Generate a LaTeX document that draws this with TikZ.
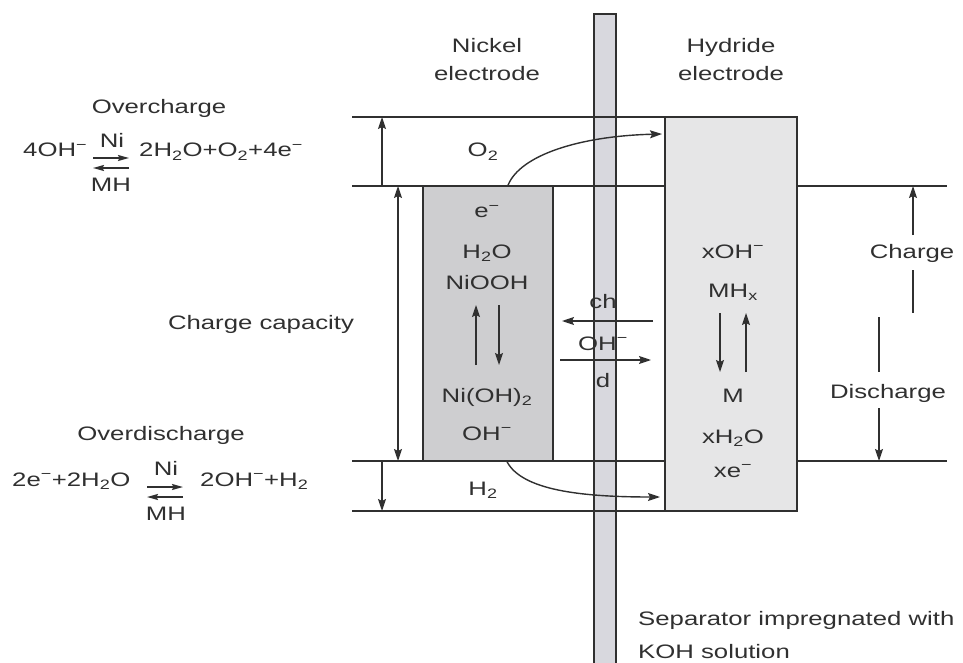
\documentclass[tikz,border=0pt]{standalone}
\usepackage{fontspec}
\setmainfont[FakeStretch=1.32]{Liberation Sans}
\usepackage{tikz}
\usetikzlibrary{arrows.meta}
\definecolor{ink}{RGB}{48,48,48}
\definecolor{nifill}{RGB}{206,206,208}
\definecolor{hyfill}{RGB}{230,230,231}
\definecolor{sepfill}{RGB}{216,216,222}
\newcommand{\mns}{\textsuperscript{−}}
\newcommand{\dn}[1]{\textsubscript{#1}}

\begin{document}
\begin{tikzpicture}[x=1pt,y=-1pt,
  lbl/.style={font=\fontsize{19.5}{26}\selectfont,text=ink,inner sep=0pt,anchor=base},
  lblw/.style={lbl,anchor=base west},
  ln/.style={draw=ink,line width=1.4pt},
  arr/.style={ln,-{Stealth[length=12pt,width=8pt,inset=2pt]}},
  sarr/.style={ln,line width=1.6pt,-{Stealth[length=11pt,width=6pt,inset=1.5pt]}},
  dbl/.style={ln,{Stealth[length=12pt,width=8pt,inset=2pt]}-{Stealth[length=12pt,width=8pt,inset=2pt]}}]
\useasboundingbox (0,0) rectangle (963,663);

\node (sep) [draw=ink,fill=sepfill,line width=1.2pt,minimum width=22pt,minimum height=656pt,inner sep=0pt] at (605,342) {};

\coordinate (l1a) at (352,117);
\coordinate (l2a) at (352,186);
\coordinate (l2b) at (947,186);
\coordinate (l3a) at (352,461);
\coordinate (l3b) at (947,461);
\coordinate (l4a) at (352,511);
\coordinate (l4b) at (665,511);
\coordinate (l1b) at (665,117);
\draw[ln] (l1a) -- (l1b);
\draw[ln] (l2a) -- (l2b);
\draw[ln] (l3a) -- (l3b);
\draw[ln] (l4a) -- (l4b);

\node (nibox) [draw=ink,fill=nifill,line width=1.4pt,minimum width=130pt,minimum height=275pt,inner sep=0pt] at (488,323.5) {};
\node (hybox) [draw=ink,fill=hyfill,line width=1.4pt,minimum width=132pt,minimum height=394pt,inner sep=0pt] at (731,314) {};

\node[lbl] (nilab) at (487,53) {Nickel};
\node[lbl] (nilab2) at (487,81) {electrode};
\node[lbl] (hylab) at (731,53) {Hydride};
\node[lbl] (hylab2) at (731,81) {electrode};

\node[lbl] (ovc) at (159,114) {Overcharge};
\node[lblw] (ovcl) at (23,157) {4OH\mns};
\node[lbl] (ovcni) at (112,148) {Ni};
\node[lbl] (ovcmh) at (111,191) {MH};
\node[lblw] (ovcr) at (139,157) {2H\dn{2}O+O\dn{2}+4e\mns};
\coordinate (ov1a) at (93,158);
\coordinate (ov1b) at (129,158);
\coordinate (ov2a) at (93,168);
\coordinate (ov2b) at (129,168);
\draw[sarr] (ov1a) -- (ov1b);
\draw[sarr] (ov2b) -- (ov2a);

\node[lbl] (ovd) at (161,440) {Overdischarge};
\node[lblw] (ovdl) at (12,486) {2e\mns+2H\dn{2}O};
\node[lbl] (ovdni) at (166,475) {Ni};
\node[lbl] (ovdmh) at (166,520) {MH};
\node[lblw] (ovdr) at (200,486) {2OH\mns+H\dn{2}};
\coordinate (od1a) at (147,487);
\coordinate (od1b) at (183,487);
\coordinate (od2a) at (147,497);
\coordinate (od2b) at (183,497);
\draw[sarr] (od1a) -- (od1b);
\draw[sarr] (od2b) -- (od2a);

\node[lbl] (cap) at (261,329) {Charge capacity};

\coordinate (ocb) at (382,186);
\coordinate (oct) at (382,117);
\draw[arr] (ocb) -- (oct);
\coordinate (cct) at (398,186);
\coordinate (ccb) at (398,461);
\draw[dbl] (cct) -- (ccb);
\coordinate (odt) at (382,461);
\coordinate (odb) at (382,511);
\draw[arr] (odt) -- (odb);

\node[lbl] (ni1) at (487,218) {e\mns};
\node[lbl] (ni2) at (487,258) {H\dn{2}O};
\node[lbl] (ni3) at (487,289) {NiOOH};
\node[lbl] (ni4) at (487,402) {Ni(OH)\dn{2}};
\node[lbl] (ni5) at (487,440) {OH\mns};
\coordinate (nua) at (476,365);
\coordinate (nub) at (476,305);
\coordinate (nda) at (499,305);
\coordinate (ndb) at (499,365);
\draw[arr] (nua) -- (nub);
\draw[arr] (nda) -- (ndb);

\node[lbl] (ch) at (603,308) {ch};
\node[lbl] (oh) at (603,350) {OH\mns};
\node[lbl] (dd) at (603,387) {d};
\coordinate (cha) at (653,321);
\coordinate (chb) at (562,321);
\coordinate (dda) at (560,360);
\coordinate (ddb) at (651,360);
\draw[arr] (cha) -- (chb);
\draw[arr] (dda) -- (ddb);

\node[lbl] (hy1) at (733,258) {xOH\mns};
\node[lbl] (hy2) at (733,297) {MH\dn{x}};
\node[lbl] (hy3) at (733,402) {M};
\node[lbl] (hy4) at (733,443) {xH\dn{2}O};
\node[lbl] (hy5) at (733,477) {xe\mns};
\coordinate (hda) at (720,313);
\coordinate (hdb) at (720,372);
\coordinate (hua) at (746,372);
\coordinate (hub) at (746,313);
\draw[arr] (hda) -- (hdb);
\draw[arr] (hua) -- (hub);

\node[lbl] (o2) at (483,157) {O\dn{2}};
\node[lbl] (h2) at (483,495) {H\dn{2}};
\coordinate (o2end) at (662,134);
\coordinate (h2end) at (660,497);
\draw[arr] ([xshift=20pt]nibox.north) .. controls (520,155) and (580,136) .. (o2end);
\draw[arr] ([xshift=19pt]nibox.south) .. controls (522,490) and (580,497) .. (h2end);

\node[lbl] (chg) at (912,258) {Charge};
\node[lbl] (dis) at (888,398) {Discharge};
\coordinate (cga) at (913,235);
\coordinate (cgb) at (913,186);
\coordinate (cgc) at (913,270);
\coordinate (cgd) at (913,313);
\draw[arr] (cga) -- (cgb);
\draw[ln] (cgc) -- (cgd);
\coordinate (dsa) at (879,317);
\coordinate (dsb) at (879,372);
\coordinate (dsc) at (879,408);
\coordinate (dsd) at (879,461);
\draw[ln] (dsa) -- (dsb);
\draw[arr] (dsc) -- (dsd);

\node[lblw] (sepl1) at (638,625) {Separator impregnated with};
\node[lblw] (sepl2) at (638,658) {KOH solution};
\end{tikzpicture}
\end{document}
